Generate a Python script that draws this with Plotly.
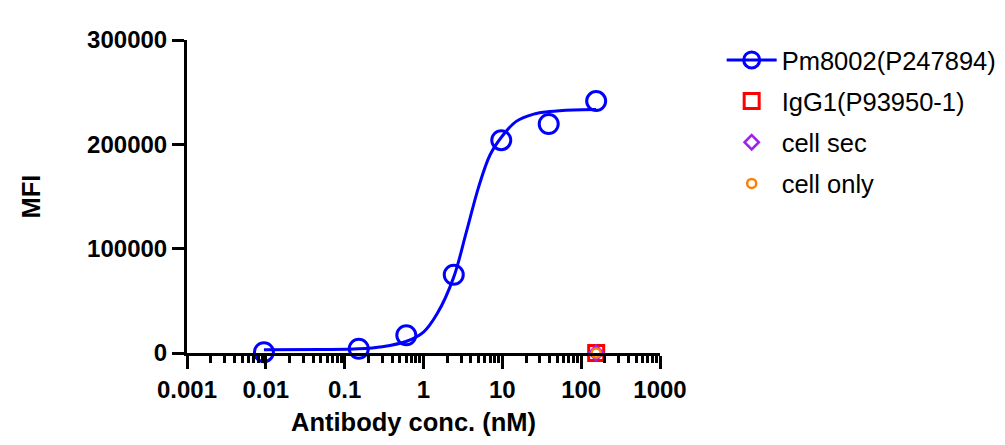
import plotly.graph_objects as go

# Pm8002 binding (measured points)
conc_nm = [0.00946, 0.151, 0.605, 2.42, 9.69, 38.75, 155]
mfi_pm8002 = [800, 4100, 17000, 75000, 204000, 219500, 241500]

# fitted curve
fit_conc = [0.00946, 0.05, 0.15, 0.3, 0.6, 1.0, 1.5, 2.4, 3.5, 5, 7, 10, 15, 25, 40, 80, 155]
fit_mfi = [3000, 3300, 4000, 6000, 11000, 20000, 38000, 72000, 116000, 159000,
           190000, 208000, 222000, 229000, 231500, 233000, 233500]

# controls
ctrl_conc = [155]
mfi_igg1 = [0]
mfi_cell_sec = [0]
mfi_cell_only = [0]

x_tickvals = [0.001, 0.01, 0.1, 1, 10, 100, 1000]
x_ticktext = ["0.001", "0.01", "0.1", "1", "10", "100", "1000"]
y_tickvals = [0, 100000, 200000, 300000]

FONT = "Liberation Sans, Arial, sans-serif"
BLUE = "#0000FF"

fig = go.Figure()

# fitted curve
fig.add_trace(go.Scatter(
    x=fit_conc, y=fit_mfi, mode="lines",
    line=dict(color=BLUE, width=3, shape="spline"),
    showlegend=False, hoverinfo="skip"))

# measured points (legend entry drawn by a dummy trace with line + marker)
fig.add_trace(go.Scatter(
    x=conc_nm, y=mfi_pm8002, mode="markers", name="Pm8002(P247894)",
    legendgroup="a", showlegend=False,
    marker=dict(symbol="circle-open", size=19, color=BLUE, line=dict(width=3)),
    cliponaxis=False))
fig.add_trace(go.Scatter(
    x=[None], y=[None], mode="lines+markers", name="Pm8002(P247894)", legendgroup="a",
    line=dict(color=BLUE, width=3),
    marker=dict(symbol="circle-open", size=17, color=BLUE, line=dict(width=3))))

fig.add_trace(go.Scatter(
    x=ctrl_conc, y=mfi_igg1, mode="markers", name="IgG1(P93950-1)", legendgroup="b",
    marker=dict(symbol="square-open", size=15, color="#FF0000", line=dict(width=3)),
    cliponaxis=False))
fig.add_trace(go.Scatter(
    x=ctrl_conc, y=mfi_cell_sec, mode="markers", name="cell sec", legendgroup="c",
    marker=dict(symbol="diamond-open", size=11, color="#A020F0", line=dict(width=2.5)),
    cliponaxis=False))
fig.add_trace(go.Scatter(
    x=ctrl_conc, y=mfi_cell_only, mode="markers", name="cell only", legendgroup="d",
    marker=dict(symbol="circle-open", size=9, color="#FF8000", line=dict(width=2.5)),
    cliponaxis=False))

fig.update_layout(
    width=1005, height=445,
    margin=dict(l=179, r=352, t=32, b=100),
    paper_bgcolor="white", plot_bgcolor="white",
    font=dict(family=FONT, color="black", size=24),
    legend=dict(x=1.128, y=1.01, xanchor="left", yanchor="top",
                font=dict(size=25.5, family=FONT), tracegroupgap=5,
                itemwidth=50, bgcolor="rgba(0,0,0,0)"),
    annotations=[dict(
        text="<b>Antibody conc. (nM)</b>", xref="paper", yref="paper",
        x=0.479, y=-0.222, xanchor="center", yanchor="middle", showarrow=False,
        font=dict(size=25.5, family=FONT, color="black"))],
)

fig.update_xaxes(
    type="log", range=[-3, 3],
    tickvals=x_tickvals, ticktext=x_ticktext,
    ticks="outside", ticklen=13, tickwidth=3, tickcolor="black",
    showline=True, linewidth=3, linecolor="black",
    showgrid=False, zeroline=False,
    tickfont=dict(size=24, family=FONT, weight="bold"),
    minor=dict(ticks="outside", ticklen=7, tickwidth=2.5, tickcolor="black",
               dtick="D1", showgrid=False),
)
fig.update_yaxes(
    range=[0, 300000],
    tickvals=y_tickvals, ticktext=[str(v) for v in y_tickvals],
    ticks="outside", ticklen=12, tickwidth=3, tickcolor="black",
    showline=True, linewidth=3, linecolor="black",
    showgrid=False, zeroline=False,
    tickfont=dict(size=24, family=FONT, weight="bold"),
    title=dict(text="MFI", font=dict(size=25.5, family=FONT, weight="bold"), standoff=40),
)

fig.write_html("out.html")
